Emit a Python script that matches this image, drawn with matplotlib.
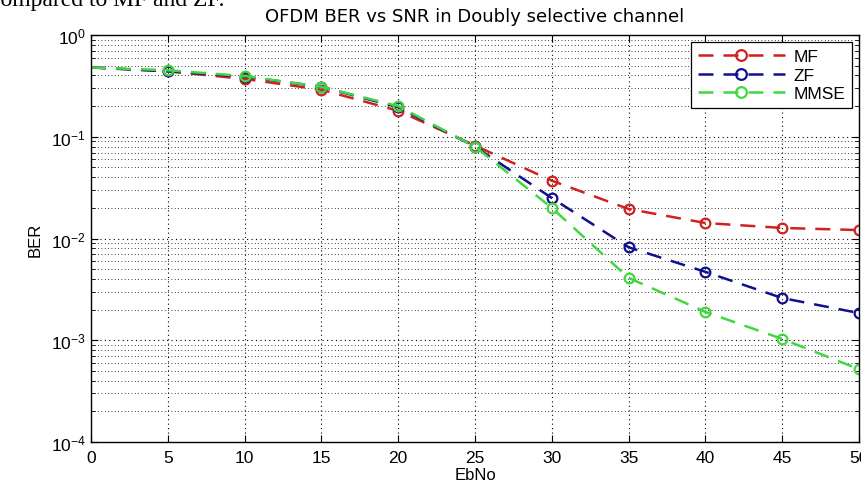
import matplotlib
matplotlib.use('Agg')
import matplotlib.pyplot as plt
from matplotlib.ticker import LogLocator, NullFormatter, MultipleLocator

# Data
ebno = [0, 5, 10, 15, 20, 25, 30, 35, 40, 45, 50]
ber_mf = [0.48, 0.44, 0.37, 0.29, 0.18, 0.082, 0.037, 0.0195, 0.0142, 0.0127, 0.0121]
ber_zf = [0.48, 0.44, 0.39, 0.31, 0.195, 0.080, 0.025, 0.0082, 0.0047, 0.0026, 0.00185]
ber_mmse = [0.48, 0.45, 0.395, 0.31, 0.20, 0.080, 0.020, 0.0041, 0.0019, 0.00103, 0.00052]

plt.rcParams['font.family'] = ['Liberation Sans', 'DejaVu Sans']

fig = plt.figure(figsize=(8.61, 4.85), dpi=100)
ax = fig.add_axes([91 / 861, 1 - 443 / 485, 768 / 861, 407 / 485])

# cropped caption line from the source document
fig.text(-0.012, 1 - 6 / 485, 'compared to MF and ZF.', family='Liberation Serif',
         fontsize=17, va='baseline', ha='left')

style = dict(linestyle='--', marker='o', markersize=7, markerfacecolor='none',
             linewidth=1.8, markeredgewidth=1.6, dashes=(6, 4), markevery=slice(1, None))
ax.semilogy(ebno, ber_mf, color='#d02020', label='MF', **style)
ax.semilogy(ebno, ber_zf, color='#10108c', label='ZF', **style)
ax.semilogy(ebno, ber_mmse, color='#40d840', label='MMSE', **style)

ax.set_xlim(0, 50)
ax.set_ylim(1e-4, 1)
ax.xaxis.set_major_locator(MultipleLocator(5))
ax.yaxis.set_major_locator(LogLocator(base=10, numticks=10))
ax.yaxis.set_minor_locator(LogLocator(base=10, subs=range(2, 10), numticks=10))
ax.yaxis.set_minor_formatter(NullFormatter())

ax.grid(True, which='major', linestyle=(0, (1, 3)), color='black', linewidth=0.8)
ax.grid(True, which='minor', axis='y', linestyle=(0, (1, 3)), color='black', linewidth=0.6)
ax.tick_params(which='both', direction='in', top=True, right=True, labelsize=12.5)
ax.tick_params(which='major', length=5)
ax.tick_params(which='minor', length=3)
ax.tick_params(axis='x', pad=6)
for s in ax.spines.values():
    s.set_linewidth(1.0)

ax.set_title('OFDM BER vs SNR in Doubly selective channel', family='DejaVu Sans',
             fontsize=13, pad=10)
ax.set_xlabel('EbNo', fontsize=12, labelpad=1)
ax.set_ylabel('BER', fontsize=12, labelpad=6)

leg = ax.legend(loc='upper right', fontsize=12.5, fancybox=False, framealpha=1,
                edgecolor='black', handlelength=5, handletextpad=0.5,
                borderaxespad=0.4, labelspacing=0.2, borderpad=0.4, markerscale=1.1)
leg.get_frame().set_linewidth(0.9)

fig.savefig('out.png', dpi=100)
